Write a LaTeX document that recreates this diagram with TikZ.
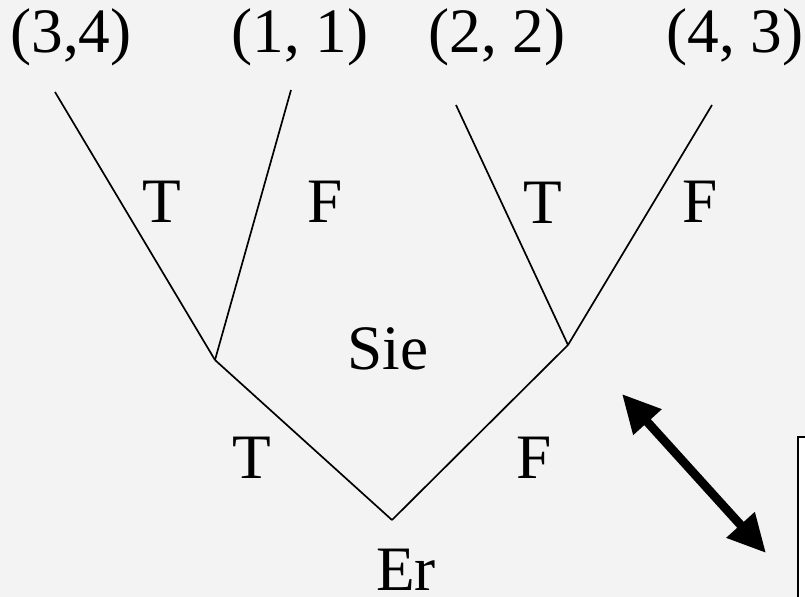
\documentclass[tikz,border=0pt]{standalone}
\usepackage{fontspec}
\setmainfont{Liberation Serif}
\usepackage{xcolor}
\usepackage{tikz}
\usetikzlibrary{arrows.meta,positioning}
\definecolor{bgfill}{HTML}{F3F3F3}

\begin{document}
\begin{tikzpicture}[x=0.025cm, y=-0.025cm,
  lbl/.style={inner sep=0pt, anchor=base, font=\fontsize{45}{54}\selectfont},
  branch/.style={black, line width=1.2pt},
  swap/.style={{Triangle[length=0.95cm, width=0.9cm]}-{Triangle[length=0.95cm, width=0.9cm]}, line width=0.22cm}
]
\fill[bgfill] (0,0) rectangle (805,597);
\useasboundingbox (0,0) rectangle (805,597);
\clip (0,0) rectangle (805,597);

% tree points
\coordinate (er) at (392,520);
\coordinate (sieT) at (215,360);
\coordinate (sieF) at (568,345);
\coordinate (tt) at (55,92);
\coordinate (tf) at (291,90);
\coordinate (ft) at (456,105);
\coordinate (ff) at (712,105);

% payoffs
\node[lbl] (pTT) at (71,53) {(3,4)};
\node[lbl] (pTF) at (300,53) {(1, 1)};
\node[lbl] (pFT) at (497,53) {(2, 2)};
\node[lbl] (pFF) at (735,53) {(4, 3)};

% players
\node[lbl] (sie) at (388,370) {Sie};
\node[lbl] (erlbl) at (406,590) {Er};

\draw[branch] (er) -- (sieT);
\draw[branch] (er) -- (sieF);
\draw[branch] (sieT) -- (tt);
\draw[branch] (sieT) -- (tf);
\draw[branch] (sieF) -- (ft);
\draw[branch] (sieF) -- (ff);

% moves
\node[lbl] (mT) at (252,479) {T};
\node[lbl] (mF) at (534,479) {F};
\node[lbl] (mTT) at (162,223) {T};
\node[lbl] (mTF) at (325,223) {F};
\node[lbl] (mFT) at (543,224) {T};
\node[lbl] (mFF) at (700,223) {F};

% other box
\node[draw, line width=0.05cm, fill=white, minimum width=1cm, minimum height=5cm, anchor=north west, inner sep=0pt] (other) at (797,436) {};
\coordinate (arrA) at (622,394);
\coordinate (arrB) at (766,553);
\draw[swap] (arrA) -- (arrB);
\end{tikzpicture}
\end{document}
